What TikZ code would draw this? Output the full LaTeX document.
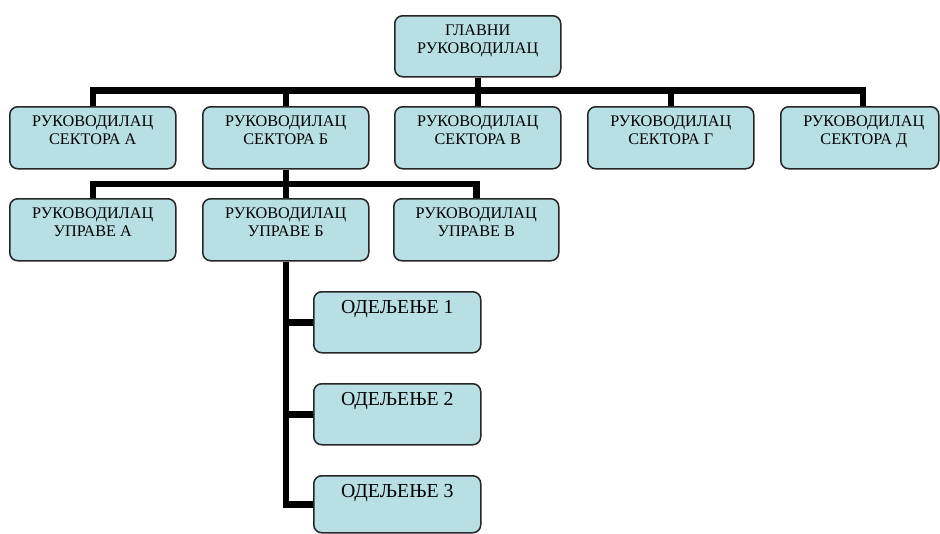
\documentclass[tikz,border=0pt]{standalone}
\usepackage{fontspec}
\setmainfont{Liberation Serif}
\definecolor{boxfill}{RGB}{184,224,228}
\newcommand\bt[3]{\parbox[t][#2][t]{#1}{\centering\fontsize{16.2}{18.5}\selectfont #3}}
\newcommand\ot[3]{\parbox[t][#2][t]{#1}{\centering\fontsize{19.8}{22}\selectfont #3}}
\begin{document}
\begin{tikzpicture}[x=1pt,y=-1pt,
  orgbox/.style={draw=black!85, line width=1.5pt, fill=boxfill, rounded corners=8pt,
    inner xsep=0pt, inner ysep=8.7pt, anchor=north west},
  depbox/.style={orgbox, inner ysep=8.9pt},
  conn/.style={line width=6.5pt, line join=miter}]
\useasboundingbox (0,0) rectangle (940,533);
\fill[white] (0,0) rectangle (940,533);

\node[orgbox] (top) at (394,15) {\bt{166pt}{43.6pt}{ГЛАВНИ\\РУКОВОДИЛАЦ}};

\node[orgbox] (A) at (9,106)   {\bt{166pt}{44.6pt}{РУКОВОДИЛАЦ\\СЕКТОРА А}};
\node[orgbox] (B) at (202,106) {\bt{166pt}{44.6pt}{РУКОВОДИЛАЦ\\СЕКТОРА Б}};
\node[orgbox] (V) at (394,106) {\bt{166pt}{44.6pt}{РУКОВОДИЛАЦ\\СЕКТОРА В}};
\node[orgbox] (G) at (587,106) {\bt{166pt}{44.6pt}{РУКОВОДИЛАЦ\\СЕКТОРА Г}};
\node[orgbox] (D) at (780,106) {\bt{158pt}{44.6pt}{\hspace*{8pt}РУКОВОДИЛАЦ\\\hspace*{8pt}СЕКТОРА Д}};
\coordinate (dIn) at (863,106);

\node[orgbox] (UA) at (9,198)   {\bt{166pt}{44.6pt}{РУКОВОДИЛАЦ\\УПРАВЕ А}};
\node[orgbox] (UB) at (202,198) {\bt{166pt}{44.6pt}{РУКОВОДИЛАЦ\\УПРАВЕ Б}};
\node[orgbox] (UV) at (393,198) {\bt{165pt}{44.6pt}{РУКОВОДИЛАЦ\\УПРАВЕ В}};

\node[depbox] (O1) at (313,291) {\ot{167pt}{43.2pt}{ОДЕЉЕЊЕ 1}};
\node[depbox] (O2) at (313,383) {\ot{167pt}{43.2pt}{ОДЕЉЕЊЕ 2}};
\node[depbox] (O3) at (313,475) {\ot{167pt}{39.2pt}{ОДЕЉЕЊЕ 3}};

\coordinate (b1) at (0,90.5);
\coordinate (b2) at (0,184);

\draw[conn] (top.south) -- (top.south |- b1);
\draw[conn] (A.north) -- (A.north |- b1) -- (dIn |- b1) -- (dIn);
\draw[conn] (B.north |- b1) -- (B.north);
\draw[conn] (V.north |- b1) -- (V.north);
\draw[conn] (G.north |- b1) -- (G.north);

\draw[conn] (B.south) -- (B.south |- b2);
\draw[conn] (UA.north) -- (UA.north |- b2) -- (UV.north |- b2) -- (UV.north);
\draw[conn] (UB.north |- b2) -- (UB.north);

\draw[conn] (UB.south) |- (O3.west);
\draw[conn] (UB.south |- O1.west) -- (O1.west);
\draw[conn] (UB.south |- O2.west) -- (O2.west);
\end{tikzpicture}
\end{document}
